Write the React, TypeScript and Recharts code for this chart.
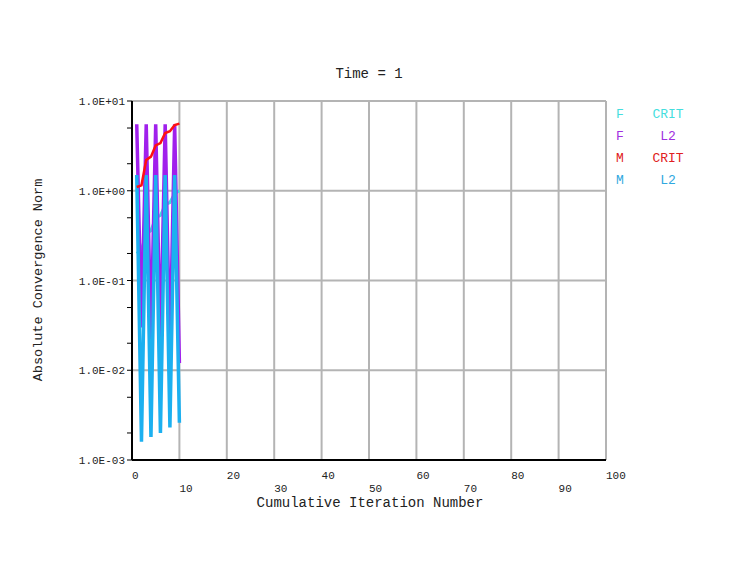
import { LineChart, Line, XAxis, YAxis, CartesianGrid } from 'recharts'

const iterations = [1, 2, 3, 4, 5, 6, 7, 8, 9, 10]
const fCrit = [0.2, 0.22, 0.33, 0.36, 0.5, 0.53, 0.7, 0.74, 0.93, 1.0]
const fL2 = [5.5, 0.03, 5.5, 0.022, 5.5, 0.018, 5.5, 0.015, 5.5, 0.012]
const mCrit = [1.1, 1.15, 2.2, 2.4, 3.2, 3.4, 4.4, 4.6, 5.4, 5.6]
const mL2 = [1.5, 0.0016, 1.5, 0.0018, 1.5, 0.002, 1.5, 0.0023, 1.5, 0.0026]

const xTicks = [0, 10, 20, 30, 40, 50, 60, 70, 80, 90, 100]
const yDecades = [0.001, 0.01, 0.1, 1, 10]
const yTicks = [0.001, 0.002, 0.005, 0.01, 0.02, 0.05, 0.1, 0.2, 0.5, 1, 2, 5, 10]

const legendItems = [
  { a: 'F', b: 'CRIT', color: '#44dede' },
  { a: 'F', b: 'L2', color: '#a030e0' },
  { a: 'M', b: 'CRIT', color: '#e02020' },
  { a: 'M', b: 'L2', color: '#30a8e0' },
]

const FONT = '"Liberation Mono", "DejaVu Sans Mono", monospace'

function fmtExp(v: number) {
  const e = Math.round(Math.log10(v))
  const sign = e < 0 ? '-' : '+'
  return `1.0E${sign}${String(Math.abs(e)).padStart(2, '0')}`
}

function XTick(props: any) {
  const { x, y, payload } = props
  const row = (payload.value / 10) % 2 === 0 ? 0 : 1
  return (
    <text x={x} y={y + 15 + row * 13} dy={4} textAnchor="start" fontSize={11} fontFamily={FONT} fill="#222">
      {payload.value}
    </text>
  )
}

function YTick(props: any) {
  const { x, y, payload } = props
  const isDecade = yDecades.some((d) => Math.abs(d - payload.value) < d * 1e-6)
  if (!isDecade) return <g />
  return (
    <text x={x} y={y} dy={4} textAnchor="end" fontSize={11} fontFamily={FONT} fill="#222">
      {fmtExp(payload.value)}
    </text>
  )
}

export default function App() {
  const data = iterations.map((it, i) => ({
    it,
    fCrit: fCrit[i],
    fL2: fL2[i],
    mCrit: mCrit[i],
    mL2: mL2[i],
  }))

  return (
    <div style={{ position: 'absolute', left: 0, top: 0, width: 750, height: 563, background: '#fff', fontFamily: FONT }}>
      <div style={{ position: 'absolute', left: 0, width: 738, top: 66, textAlign: 'center', fontSize: 14, color: '#222' }}>
        Time = 1
      </div>
      <LineChart width={750} height={563} data={data} margin={{ top: 101, right: 144, bottom: 63, left: 72 }}>
        <CartesianGrid
          stroke="#b4b4b4"
          strokeWidth={2}
          horizontalValues={yDecades}
          verticalValues={xTicks}
        />
        <XAxis
          dataKey="it"
          type="number"
          domain={[0, 100]}
          ticks={xTicks}
          interval={0}
          height={40}
          tickLine={false}
          tickSize={0}
          tickMargin={0}
          axisLine={{ stroke: '#000', strokeWidth: 2 }}
          tick={<XTick />}
        />
        <YAxis
          scale="log"
          domain={[0.001, 10]}
          ticks={yTicks}
          interval={0}
          allowDataOverflow
          width={60}
          tickSize={5}
          tickMargin={2}
          tickLine={{ stroke: '#000', strokeWidth: 1 }}
          axisLine={{ stroke: '#000', strokeWidth: 2 }}
          tick={<YTick />}
        />
        <Line dataKey="fCrit" name="F CRIT" stroke="#3ee0e0" strokeWidth={3} dot={false} isAnimationActive={false} />
        <Line dataKey="fL2" name="F L2" stroke="#a020ec" strokeWidth={3.5} dot={false} isAnimationActive={false} />
        <Line dataKey="mL2" name="M L2" stroke="#1cb0f0" strokeWidth={3.5} dot={false} isAnimationActive={false} />
        <Line dataKey="mCrit" name="M CRIT" stroke="#ff1010" strokeWidth={2.5} dot={false} isAnimationActive={false} />
      </LineChart>
      <div
        style={{
          position: 'absolute',
          left: 38,
          top: 280,
          transform: 'translate(-50%, -50%) rotate(-90deg)',
          whiteSpace: 'nowrap',
          fontSize: 13.5,
          color: '#222',
        }}
      >
        Absolute Convergence Norm
      </div>
      <div style={{ position: 'absolute', left: 370, top: 503, transform: 'translate(-50%, -50%)', whiteSpace: 'nowrap', fontSize: 14, color: '#222' }}>
        Cumulative Iteration Number
      </div>
      {legendItems.map((item, i) => (
        <div key={i} style={{ position: 'absolute', left: 616, top: 107 + i * 22, fontSize: 13, color: item.color, lineHeight: '16px' }}>
          <span style={{ display: 'inline-block', width: 12 }}>{item.a}</span>
          <span style={{ display: 'inline-block', width: 80, textAlign: 'center' }}>{item.b}</span>
        </div>
      ))}
    </div>
  )
}
